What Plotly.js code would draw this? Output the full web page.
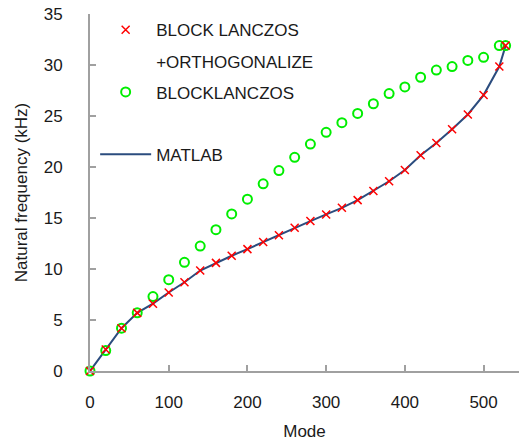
<!DOCTYPE html>
<html>
<head>
<meta charset="utf-8">
<script src="https://cdn.plot.ly/plotly-3.0.1.min.js"></script>
<style>html,body{margin:0;padding:0;background:#fff;}#chart{width:520px;height:441px;}</style>
</head>
<body>
<div id="chart"></div>
<script>
// Mode numbers (x)
var modes = [0, 20, 40, 60, 80, 100, 120, 140, 160, 180, 200, 220, 240, 260, 280, 300, 320, 340, 360, 380, 400, 420, 440, 460, 480, 500, 520, 528];
// BLOCK LANCZOS +ORTHOGONALIZE (kHz)
var blockLanczosOrth = [0, 2.1, 4.2, 5.7, 6.6, 7.7, 8.7, 9.85, 10.6, 11.3, 11.95, 12.65, 13.3, 14.05, 14.7, 15.35, 16.0, 16.75, 17.65, 18.6, 19.7, 21.15, 22.35, 23.7, 25.15, 27.05, 29.85, 31.9];
// BLOCKLANCZOS (kHz)
var blockLanczos = [0, 2.0, 4.2, 5.7, 7.3, 8.95, 10.65, 12.25, 13.85, 15.4, 16.85, 18.35, 19.65, 20.95, 22.25, 23.4, 24.35, 25.25, 26.2, 27.2, 27.85, 28.8, 29.5, 29.85, 30.45, 30.75, 31.9, 31.9];
// MATLAB reference (kHz)
var matlab = [0, 2.05, 4.2, 5.7, 6.6, 7.7, 8.7, 9.85, 10.6, 11.3, 11.95, 12.65, 13.3, 14.05, 14.7, 15.35, 16.0, 16.75, 17.65, 18.6, 19.7, 21.15, 22.35, 23.7, 25.15, 27.05, 29.85, 31.9];
// Tick labels
var xTicks = [0, 100, 200, 300, 400, 500];
var yTicks = [0, 5, 10, 15, 20, 25, 30, 35];

var FONT = 'Arial, "Liberation Sans", sans-serif';
var HIDDEN = {size: 1, color: 'rgba(0,0,0,0)', line: {width: 0, color: 'rgba(0,0,0,0)'}};
var traces = [
  {x: modes, y: matlab, type: 'scatter', mode: 'lines', name: 'MATLAB',
   line: {color: '#2b4c7e', width: 2}, cliponaxis: false, showlegend: false, legendgroup: 'm'},
  {x: modes, y: blockLanczos, type: 'scatter', mode: 'markers', name: 'BLOCKLANCZOS',
   marker: {symbol: 'circle-open', size: 9, color: '#00ee00', line: {width: 2, color: '#00ee00'}},
   cliponaxis: false, showlegend: false, legendgroup: 'b'},
  {x: modes, y: blockLanczosOrth, type: 'scatter', mode: 'markers', name: 'BLOCK LANCZOS',
   marker: {symbol: 'x-thin-open', size: 8, color: '#ff0000', line: {width: 1.5, color: '#ff0000'}},
   cliponaxis: false, showlegend: false, legendgroup: 'a'},
  // legend entries (legend-only, in Excel order)
  {x: [null], y: [null], type: 'scatter', mode: 'markers', name: 'BLOCK LANCZOS', legendgroup: 'a',
   marker: {symbol: 'x-thin-open', size: 8, color: '#ff0000', line: {width: 1.5, color: '#ff0000'}}},
  {x: [null], y: [null], type: 'scatter', mode: 'markers', name: '+ORTHOGONALIZE', legendgroup: 'a2',
   marker: HIDDEN},
  {x: [null], y: [null], type: 'scatter', mode: 'markers', name: 'BLOCKLANCZOS', legendgroup: 'b',
   marker: {symbol: 'circle-open', size: 9, color: '#00ee00', line: {width: 2, color: '#00ee00'}}},
  {x: [null], y: [null], type: 'scatter', mode: 'markers', name: ' ', legendgroup: 'e',
   marker: HIDDEN},
  {x: [null], y: [null], type: 'scatter', mode: 'lines', name: 'MATLAB', legendgroup: 'm',
   line: {color: '#2b4c7e', width: 2}}
];

var axisCommon = {
  showgrid: false, zeroline: false, showline: true, linecolor: '#a0a0a0', linewidth: 2,
  ticks: 'inside', ticklen: 6, tickwidth: 2, tickcolor: '#a0a0a0',
  tickfont: {family: FONT, size: 17, color: '#1a1a1a'}
};

var layout = {
  width: 520, height: 441,
  margin: {l: 89.5, r: 1, t: 14, b: 70},
  paper_bgcolor: '#ffffff', plot_bgcolor: '#ffffff',
  font: {family: FONT, size: 17, color: '#1a1a1a'},
  xaxis: Object.assign({}, axisCommon, {
    range: [0, 545], tickvals: xTicks, ticktext: xTicks.map(String), ticklabelstandoff: 15,
    title: {text: 'Mode', font: {family: FONT, size: 17, color: '#1a1a1a'}, standoff: 14}
  }),
  yaxis: Object.assign({}, axisCommon, {
    range: [0, 35], tickvals: yTicks, ticktext: yTicks.map(String), ticklabelstandoff: 22,
    title: {text: 'Natural frequency (kHz)', font: {family: FONT, size: 17, color: '#1a1a1a'}, standoff: 12}
  }),
  showlegend: true,
  legend: {
    x: 0.012, xanchor: 'left', y: 1.005, yanchor: 'top',
    bgcolor: 'rgba(0,0,0,0)', borderwidth: 0,
    font: {family: FONT, size: 17, color: '#1a1a1a'},
    itemwidth: 51, tracegroupgap: 6, traceorder: 'grouped', itemclick: false, itemdoubleclick: false
  }
};

Plotly.newPlot('chart', traces, layout, {displayModeBar: false, staticPlot: true});
</script>
</body>
</html>
